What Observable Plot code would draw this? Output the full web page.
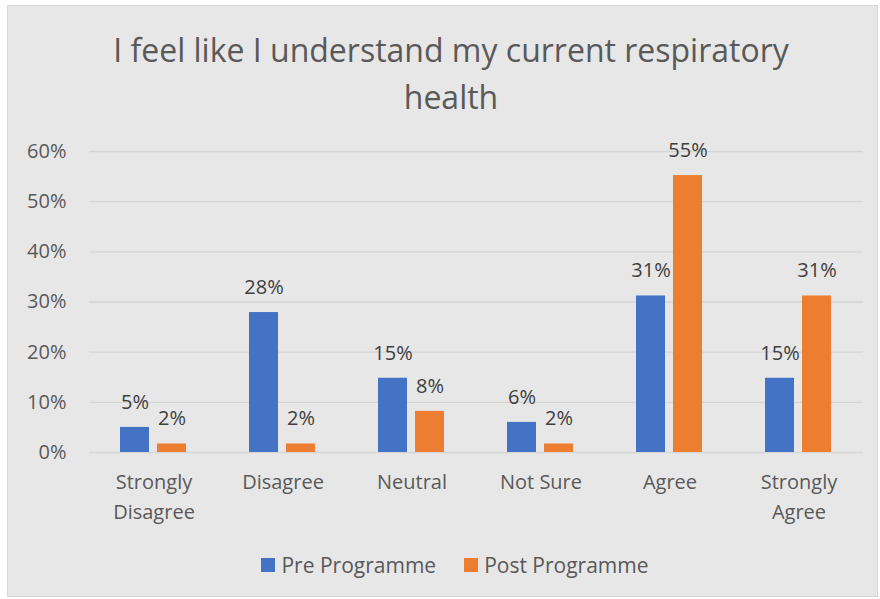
<!DOCTYPE html>
<html>
<head>
<meta charset="utf-8">
<script src="https://cdn.jsdelivr.net/npm/d3@7"></script>
<script src="https://cdn.jsdelivr.net/npm/@observablehq/plot@0.6"></script>
<style>
  body { margin: 0; background: #ffffff; font-family: "Open Sans", sans-serif; }
  #page { position: relative; width: 880px; height: 599px; overflow: hidden; }
  #frame { position: absolute; left: 7px; top: 5px; width: 869px; height: 590px; background: #e7e7e7; border: 1px solid #d6d6d6; }
  #title { position: absolute; left: 0; top: 26px; width: 902px; text-align: center; color: #595959; font-size: 32px; line-height: 47px; }
  #chart { position: absolute; left: 0; top: 130px; }
  #legend { position: absolute; left: 15px; top: 551px; width: 880px; display: flex; justify-content: center; color: #595959; font-size: 21px; }
  .item { display: flex; align-items: center; margin: 0 14px; }
  .sw { width: 14px; height: 14px; margin-right: 6px; }
</style>
</head>
<body>
<div id="page">
  <div id="frame"></div>
  <div id="title">I feel like I understand my current respiratory<br>health</div>
  <div id="chart"></div>
  <div id="legend"></div>
</div>
<script>
const categories = ["Strongly Disagree", "Disagree", "Neutral", "Not Sure", "Agree", "Strongly Agree"];
const categoryLabels = ["Strongly\nDisagree", "Disagree", "Neutral", "Not Sure", "Agree", "Strongly\nAgree"];
const seriesNames = ["Pre Programme", "Post Programme"];
const seriesColors = ["#4472c4", "#ed7d31"];
const preValues = [5.0, 27.9, 14.8, 6.0, 31.2, 14.8];
const postValues = [1.7, 1.7, 8.2, 1.7, 55.2, 31.2];
const yTicks = [0, 10, 20, 30, 40, 50, 60];

const data = [];
categories.forEach((c, i) => {
  data.push({category: c, series: seriesNames[0], value: preValues[i]});
  data.push({category: c, series: seriesNames[1], value: postValues[i]});
});

const labelOf = new Map(categories.map((c, i) => [c, categoryLabels[i]]));

const chart = Plot.plot({
  width: 880,
  height: 410,
  marginLeft: 89,
  marginRight: 17,
  marginTop: 21,
  marginBottom: 88,
  style: {background: "transparent", fontFamily: "Open Sans, sans-serif", fontSize: "20px"},
  fx: {domain: categories, padding: 0, axis: null},
  x: {domain: seriesNames, paddingInner: 0.216, paddingOuter: 0.851, axis: null},
  y: {domain: [0, 60], axis: null},
  color: {domain: seriesNames, range: seriesColors},
  marks: [
    Plot.ruleY(yTicks, {stroke: "#d6d6d6", strokeWidth: 1.3}),
    Plot.axisY({ticks: yTicks, label: null, tickSize: 0, tickPadding: 23, tickFormat: d => d + "%", fill: "#595959", fontSize: 20}),
    Plot.axisFx({anchor: "bottom", label: null, tickSize: 0, tickPadding: 15, tickFormat: d => labelOf.get(d), fill: "#595959", fontSize: 20, lineHeight: 1.5, lineAnchor: "top"}),
    Plot.barY(data, {fx: "category", x: "series", y: "value", fill: "series"}),
    Plot.text(data, {fx: "category", x: "series", y: "value", text: d => Math.round(d.value) + "%", dy: -25, fill: "#404040", fontSize: 20})
  ]
});
document.getElementById("chart").appendChild(chart);

const legend = document.getElementById("legend");
seriesNames.forEach((s, i) => {
  const item = document.createElement("div");
  item.className = "item";
  const sw = document.createElement("div");
  sw.className = "sw";
  sw.style.background = seriesColors[i];
  const t = document.createElement("span");
  t.textContent = s;
  item.appendChild(sw);
  item.appendChild(t);
  legend.appendChild(item);
});
</script>
</body>
</html>
